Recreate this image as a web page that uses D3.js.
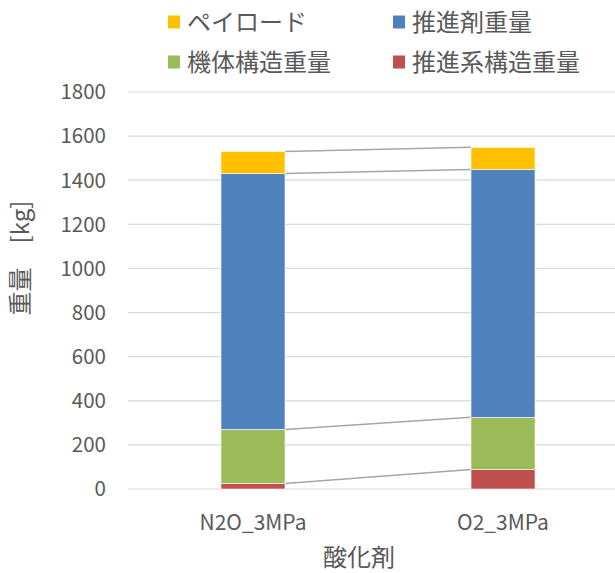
<!DOCTYPE html>
<html>
<head>
<meta charset="utf-8">
<script src="https://cdn.jsdelivr.net/npm/d3@7"></script>
<style>
  body { margin: 0; background: #fff; }
  svg text { font-family: "Noto Sans CJK JP", "Noto Sans", sans-serif; fill: #595959; }
</style>
</head>
<body>
<svg id="chart"></svg>
<script>
// Chart data
const categories = ["N2O_3MPa", "O2_3MPa"];
const seriesNames = ["推進系構造重量", "機体構造重量", "推進剤重量", "ペイロード"];
const seriesColors = ["#C0504D", "#9BBB59", "#4F81BD", "#FFC000"];
const propStructure = [25, 88];
const bodyStructure = [245, 237];
const propellant = [1160, 1124];
const payload = [100, 100];
const yTicks = [0, 200, 400, 600, 800, 1000, 1200, 1400, 1600, 1800];
const legendOrder = ["ペイロード", "推進剤重量", "機体構造重量", "推進系構造重量"];

const width = 615;
const height = 573;
const margin = { top: 92, right: -13, bottom: 84, left: 128 };

const svg = d3.select("#chart")
  .attr("width", width)
  .attr("height", height);

const rows = categories.map((c, i) => ({
  cat: c,
  "推進系構造重量": propStructure[i],
  "機体構造重量": bodyStructure[i],
  "推進剤重量": propellant[i],
  "ペイロード": payload[i]
}));

const stacked = d3.stack().keys(seriesNames)(rows);

const x = d3.scaleBand()
  .domain(categories)
  .range([margin.left, width - margin.right])
  .paddingInner(0.744)
  .paddingOuter(0.372);

const y = d3.scaleLinear()
  .domain([0, 1800])
  .range([height - margin.bottom, margin.top]);

// Gridlines
svg.append("g")
  .selectAll("line")
  .data(yTicks)
  .join("line")
  .attr("x1", margin.left)
  .attr("x2", width)
  .attr("y1", d => y(d))
  .attr("y2", d => y(d))
  .attr("stroke", "#D9D9D9")
  .attr("stroke-width", 1.2);

// Tick labels
svg.append("g")
  .selectAll("text")
  .data(yTicks)
  .join("text")
  .attr("x", 106)
  .attr("y", d => y(d))
  .attr("dy", "0.36em")
  .attr("text-anchor", "end")
  .style("font-size", "20.5px")
  .text(d => d);

// Series lines between stacked bars
const lines = svg.append("g");
stacked.forEach(s => {
  lines.append("line")
    .attr("x1", x(categories[0]) + x.bandwidth())
    .attr("x2", x(categories[1]))
    .attr("y1", y(s[0][1]))
    .attr("y2", y(s[1][1]))
    .attr("stroke", "#A5A5A5")
    .attr("stroke-width", 1.5);
});

// Bars
svg.append("g")
  .selectAll("g")
  .data(stacked)
  .join("g")
  .attr("fill", (d, i) => seriesColors[i])
  .selectAll("rect")
  .data(d => d)
  .join("rect")
  .attr("x", d => x(d.data.cat))
  .attr("y", d => y(d[1]))
  .attr("width", x.bandwidth())
  .attr("height", d => y(d[0]) - y(d[1]))
  .attr("stroke", "#fff")
  .attr("stroke-width", 0.6);

// Category labels
svg.append("g")
  .selectAll("text")
  .data(categories)
  .join("text")
  .attr("x", d => x(d) + x.bandwidth() / 2)
  .attr("y", 522)
  .attr("dy", "0.36em")
  .attr("text-anchor", "middle")
  .style("font-size", "21px")
  .text(d => d);

// Axis titles
svg.append("text")
  .attr("x", 359)
  .attr("y", 557)
  .attr("dy", "0.36em")
  .attr("text-anchor", "middle")
  .style("font-size", "24px")
  .text("酸化剤");

svg.append("text")
  .attr("transform", "translate(20,258) rotate(-90)")
  .attr("dy", "0.36em")
  .attr("text-anchor", "middle")
  .style("font-size", "24px")
  .text("重量　[kg]");

// Legend
const legendPos = [[168, 22], [393, 22], [168, 62], [393, 62]];
const legend = svg.append("g");
legendOrder.forEach((name, i) => {
  const [lx, ly] = legendPos[i];
  legend.append("rect")
    .attr("x", lx)
    .attr("y", ly - 6.5)
    .attr("width", 12)
    .attr("height", 13)
    .attr("fill", seriesColors[seriesNames.indexOf(name)]);
  legend.append("text")
    .attr("x", lx + 19)
    .attr("y", ly)
    .attr("dy", "0.36em")
    .style("font-size", "24px")
    .text(name);
});
</script>
</body>
</html>
